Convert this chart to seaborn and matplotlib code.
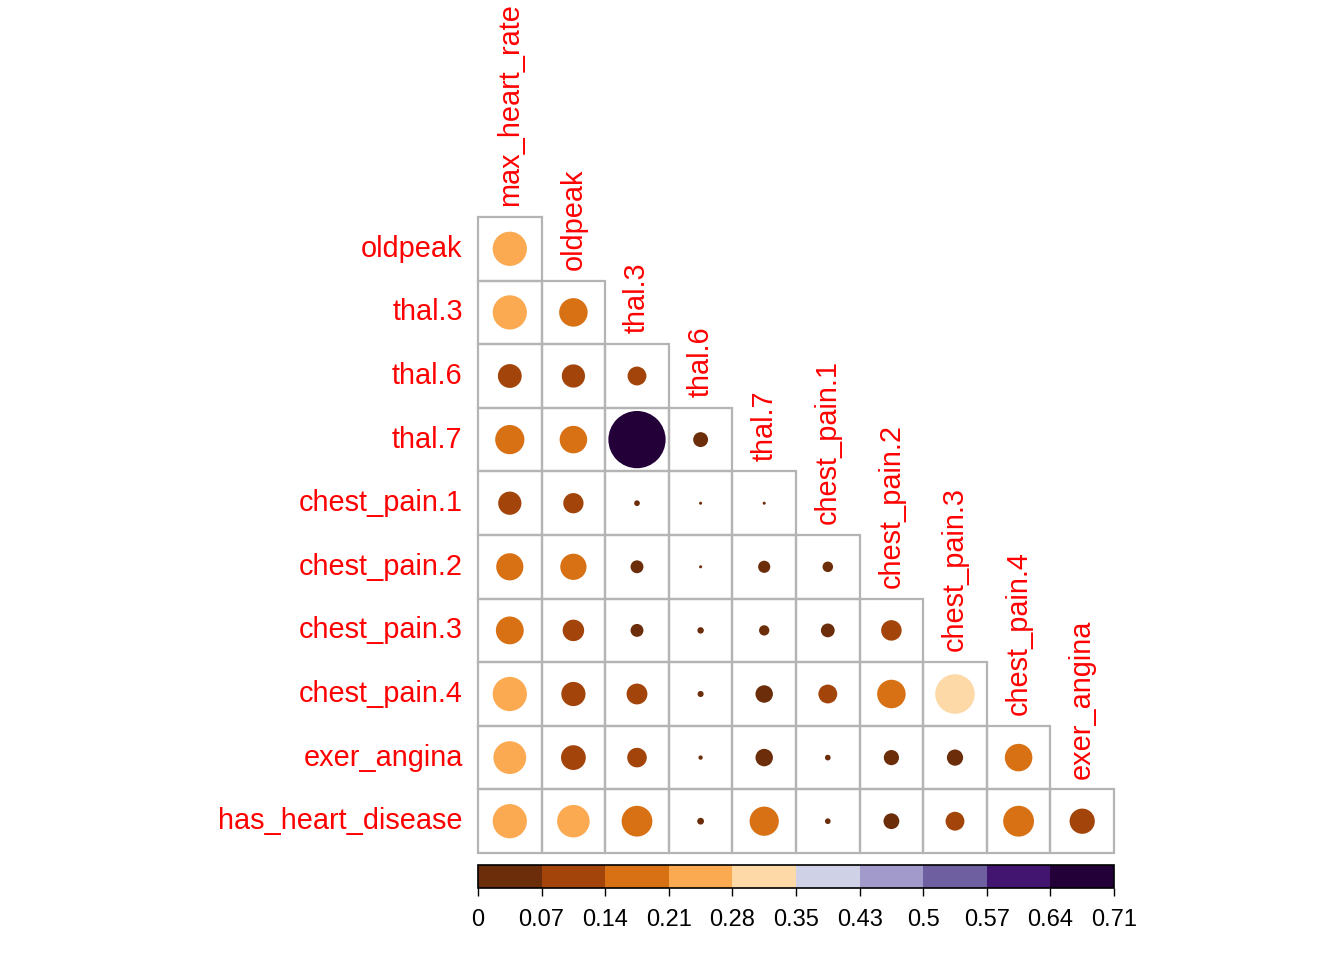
import numpy as np
import pandas as pd
import matplotlib
matplotlib.use("Agg")
import matplotlib.pyplot as plt
import seaborn as sns
from matplotlib.colors import ListedColormap, BoundaryNorm
from matplotlib.patches import Circle, Rectangle
import matplotlib.cm as cm

# ---------------- data ----------------
row_labels = ["oldpeak", "thal.3", "thal.6", "thal.7", "chest_pain.1",
              "chest_pain.2", "chest_pain.3", "chest_pain.4", "exer_angina",
              "has_heart_disease"]
col_labels = ["max_heart_rate", "oldpeak", "thal.3", "thal.6", "thal.7",
              "chest_pain.1", "chest_pain.2", "chest_pain.3", "chest_pain.4",
              "exer_angina"]
values = [
    [0.254],
    [0.254, 0.176],
    [0.123, 0.117, 0.077],
    [0.185, 0.164, 0.710, 0.048],
    [0.117, 0.089, 0.007, 0.002, 0.002],
    [0.160, 0.149, 0.036, 0.002, 0.032, 0.024],
    [0.168, 0.100, 0.036, 0.009, 0.023, 0.041, 0.091],
    [0.254, 0.127, 0.094, 0.008, 0.066, 0.077, 0.176, 0.339],
    [0.233, 0.133, 0.083, 0.004, 0.066, 0.007, 0.050, 0.057, 0.164],
    [0.254, 0.229, 0.205, 0.010, 0.185, 0.007, 0.054, 0.077, 0.206, 0.138],
]
cbar_tick_labels = ["0", "0.07", "0.14", "0.21", "0.28", "0.35", "0.43",
                    "0.5", "0.57", "0.64", "0.71"]
palette_hex = ["#6B2D0A", "#A3440A", "#D87014", "#FBAA52", "#FDD9A8",
               "#CFD1E6", "#A29ACA", "#6E60A0", "#421670", "#230037"]
vmin, vmax = 0.0, 0.71

# ---------------- figure ----------------
sns.set_theme(style="white")
plt.rcParams["font.family"] = ["Liberation Sans", "DejaVu Sans"]

W, H = 1344, 960
fig = plt.figure(figsize=(W / 100, H / 100), dpi=100)
fig.patch.set_facecolor("white")

gx0, gx1, gy0, gy1 = 478, 1114, 217, 853
ax = fig.add_axes([gx0 / W, 1 - gy1 / H, (gx1 - gx0) / W, (gy1 - gy0) / H])

n = len(row_labels)
grid = np.full((n, n), np.nan)
mask = np.ones((n, n), dtype=bool)
for i, row in enumerate(values):
    for j, v in enumerate(row):
        grid[i, j] = v
        mask[i, j] = False
df = pd.DataFrame(grid, index=row_labels, columns=col_labels)

# white background cells for the lower triangle
sns.heatmap(np.where(mask, np.nan, 1.0), mask=mask, cmap=ListedColormap(["white"]),
            cbar=False, linewidths=0, xticklabels=False, yticklabels=False, ax=ax)

cmap = ListedColormap(palette_hex)
bounds = np.linspace(vmin, vmax, len(palette_hex) + 1)
norm = BoundaryNorm(bounds, cmap.N)

for i, r in enumerate(row_labels):
    for j, c in enumerate(col_labels):
        v = df.loc[r, c]
        if np.isnan(v):
            continue
        ax.add_patch(Rectangle((j, i), 1, 1, facecolor="none",
                               edgecolor="#B4B4B4", linewidth=1.6, zorder=2,
                               clip_on=False))
        rad = 0.45 * np.sqrt(abs(v) / vmax)
        ax.add_patch(Circle((j + 0.5, i + 0.5), rad, facecolor=cmap(norm(v)),
                            edgecolor="none", zorder=3))

ax.set_xlim(0, n)
ax.set_ylim(n, 0)
ax.set_aspect("equal")
for s in ax.spines.values():
    s.set_visible(False)

fs = 20.8
for i, r in enumerate(row_labels):
    ax.text(-0.24, i + 0.5, r, ha="right", va="center", color="red",
            fontsize=fs, clip_on=False)
for j, c in enumerate(col_labels):
    ax.text(j + 0.5, j - 0.17, c, ha="center", va="bottom", rotation=90,
            color="red", fontsize=fs, clip_on=False)

# ---------------- colorbar ----------------
cy0, cy1 = 865, 888
cax = fig.add_axes([gx0 / W, 1 - cy1 / H, (gx1 - gx0) / W, (cy1 - cy0) / H])
sm = cm.ScalarMappable(norm=norm, cmap=cmap)
cb = fig.colorbar(sm, cax=cax, orientation="horizontal", ticks=bounds,
                  spacing="proportional")
cb.ax.set_xticklabels(cbar_tick_labels)
cb.ax.tick_params(axis="x", direction="out", length=6, width=1, color="black",
                  labelsize=17, pad=9, labelcolor="black")
cb.outline.set_edgecolor("black")
cb.outline.set_linewidth(1.2)

fig.savefig("out.png", dpi=100, facecolor="white")
